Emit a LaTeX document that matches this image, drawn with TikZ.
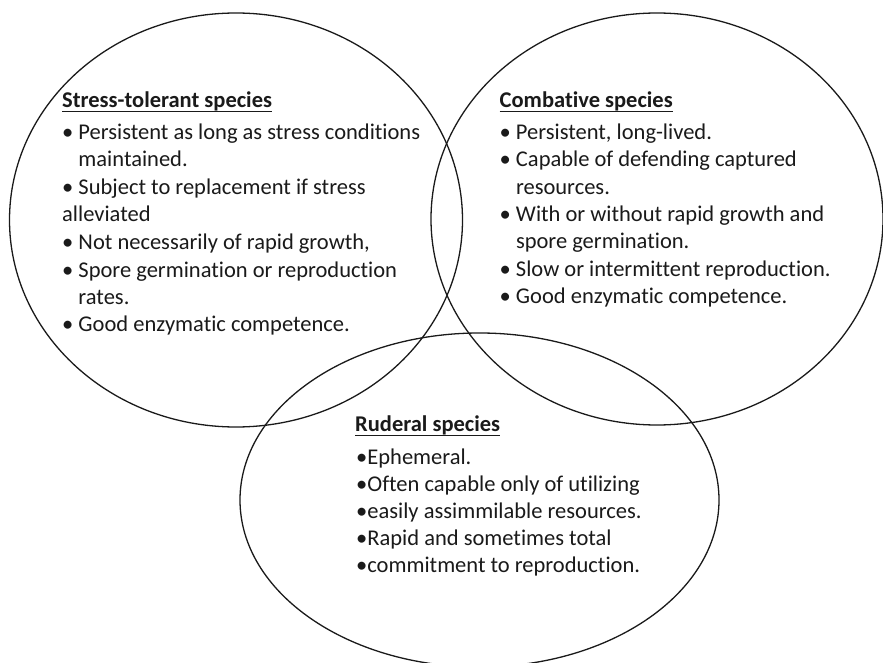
\documentclass[tikz,border=0pt]{standalone}
\usepackage{fontspec}
\setmainfont{Carlito}[Ligatures=NoCommon]
\definecolor{ink}{HTML}{1A1A1A}
\begin{document}
\begin{tikzpicture}[x=1pt,y=-1pt,
  ring/.style={draw=ink, line width=1.3pt},
  txt/.style={anchor=base west, inner sep=0pt, text=ink,
    font=\fontsize{22.5}{27}\selectfont},
  head/.style={txt, font=\fontsize{22.5}{27}\selectfont\bfseries},
  uline/.style={draw=ink, line width=1.2pt}]
\useasboundingbox (0,0) rectangle (883,663);
\fill[white] (0,0) rectangle (883,663);
\clip (0,0) rectangle (883,663);

% the three overlapping groups
\coordinate (cS) at (236,220);
\coordinate (cC) at (657,219);
\coordinate (cR) at (479.5,500);
\draw[ring] (cS) ellipse [x radius=226.5pt, y radius=207pt];
\draw[ring] (cC) ellipse [x radius=226pt, y radius=206pt];
\draw[ring] (cR) ellipse [x radius=239.5pt, y radius=167pt];

% stress-tolerant species
\node[head] (sH) at (62,108) {Stress-tolerant species};
\draw[uline] ([yshift=-3.6pt]sH.base west) -- ([yshift=-3.6pt]sH.base east);
\node[txt] (s1) at (62,139.5) {• Persistent as long as stress conditions};
\node[txt] (s2) at (62,167) {\phantom{• }maintained.};
\node[txt] (s3) at (62,194.5) {• Subject to replacement if stress};
\node[txt] (s4) at (62,222) {alleviated};
\node[txt] (s5) at (62,249.5) {• Not necessarily of rapid growth,};
\node[txt] (s6) at (62,277) {• Spore germination or reproduction};
\node[txt] (s7) at (62,304) {\phantom{• }rates.};
\node[txt] (s8) at (62,331.5) {• Good enzymatic competence.};

% combative species
\node[head] (cH) at (499.5,108) {Combative species};
\draw[uline] ([yshift=-3.6pt]cH.base west) -- ([yshift=-3.6pt]cH.base east);
\node[txt] (c1) at (499.5,139.3) {• Persistent, long-lived.};
\node[txt] (c2) at (499.5,166.7) {• Capable of defending captured};
\node[txt] (c3) at (499.5,194) {\phantom{• }resources.};
\node[txt] (c4) at (499.5,221.5) {• With or without rapid growth and};
\node[txt] (c5) at (499.5,248.5) {\phantom{• }spore germination.};
\node[txt] (c6) at (499.5,276) {• Slow or intermittent reproduction.};
\node[txt] (c7) at (499.5,303.3) {• Good enzymatic competence.};

% ruderal species
\node[head] (rH) at (355,431.7) {Ruderal species};
\draw[uline] ([yshift=-3.6pt]rH.base west) -- ([yshift=-3.6pt]rH.base east);
\node[txt] (r1) at (356,464) {•Ephemeral.};
\node[txt] (r2) at (356,491) {•Often capable only of utilizing};
\node[txt] (r3) at (356,518) {•easily assimmilable resources.};
\node[txt] (r4) at (356,545.7) {•Rapid and sometimes total};
\node[txt] (r5) at (356,572.7) {•commitment to reproduction.};
\end{tikzpicture}
\end{document}
